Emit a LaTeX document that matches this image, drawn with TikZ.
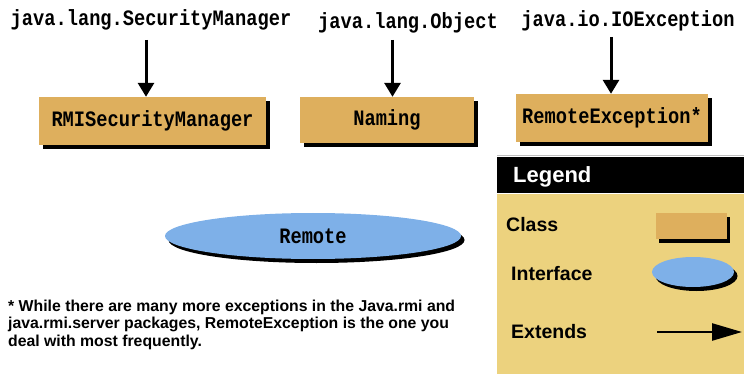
\documentclass[tikz,border=0pt]{standalone}
\usepackage{fontspec}
\setmainfont{Liberation Sans}
\newfontfamily\codefont[FakeStretch=0.85]{Liberation Mono}
\usetikzlibrary{arrows.meta, shadows, shapes.geometric}
\definecolor{classfill}{RGB}{222,175,93}
\definecolor{ifacefill}{RGB}{126,176,232}
\definecolor{legendbg}{RGB}{236,210,126}

\begin{document}
\begin{tikzpicture}[x=1pt, y=-1pt,
  code/.style={font=\codefont\bfseries\fontsize{22}{24}\selectfont, inner sep=0pt},
  shade3/.style={drop shadow={shadow xshift=3.5pt, shadow yshift=-4pt, fill=black, opacity=1}},
  classbox/.style={rectangle, fill=classfill, code, shade3},
  ifacebox/.style={ellipse, fill=ifacefill, code, shade3},
  ext/.style={line width=3pt, -{Triangle[length=14pt,width=16pt]}},
  legtext/.style={font=\bfseries\fontsize{19.5}{21}\selectfont, inner sep=0pt, anchor=base west}]
\useasboundingbox (0,0) rectangle (744,374);

% superclasses
\node[code, anchor=base] (sm) at (151,26) {java.lang.SecurityManager};
\node[code, anchor=base] (obj) at (408,29) {java.lang.Object};
\node[code, anchor=base] (ioe) at (628,27) {java.io.IOException};

% classes of java.rmi
\node[classbox, minimum width=227, minimum height=48] (rmi) at (152.5,121) {RMISecurityManager};
\node[classbox, minimum width=174, minimum height=46] (naming) at (387,120) {Naming};
\node[classbox, minimum width=192, minimum height=48] (rex) at (612,118) {RemoteException*};

% extends arrows
\coordinate (smtail) at (146,40);
\coordinate (objtail) at (392.5,40);
\coordinate (ioetail) at (611,37);
\draw[ext] (smtail) -- (smtail |- rmi.north);
\draw[ext] (objtail) -- (objtail |- naming.north);
\draw[ext] (ioetail) -- (ioetail |- rex.north);

% interface
\node[ifacebox, minimum width=296, minimum height=46] (remote) at (313,236) {Remote};

% footnote
\node[anchor=north west, align=left, inner sep=0pt,
  font=\bfseries\fontsize{15.8}{17.6}\selectfont] (note) at (8,299.5)
  {* While there are many more exceptions in the Java.rmi and\\
   java.rmi.server packages, RemoteException is the one you\\
   deal with most frequently.};

% Legend
\node[fill=black, anchor=north west, minimum width=247, minimum height=36, inner sep=0pt] (leghead) at (497,157) {};
\node[fill=legendbg, anchor=north west, minimum width=247, minimum height=181, inner sep=0pt] (legbody) at (leghead.south west) {};
\draw[black!25, line width=1.5pt] ([yshift=1.5pt]leghead.north west) -- ([yshift=1.5pt]leghead.north east);
\node[font=\bfseries\fontsize{22}{24}\selectfont, text=white, inner sep=0pt, anchor=base west] (legtitle) at (513,183) {Legend};
\node[legtext] (lclass) at (506,232) {Class};
\node[legtext] (liface) at (511,280) {Interface};
\node[legtext] (lext) at (511,338) {Extends};
\node[classbox, minimum width=71, minimum height=25] (classkey) at (691,226) {};
\node[ifacebox, minimum width=82, minimum height=30] (ifacekey) at (693,272) {};
\coordinate (exttail) at (657,332);
\coordinate (exthead) at (742,332);
\draw[line width=2.5pt, -{Triangle[length=30pt,width=17pt]}] (exttail) -- (exthead);
\end{tikzpicture}
\end{document}
